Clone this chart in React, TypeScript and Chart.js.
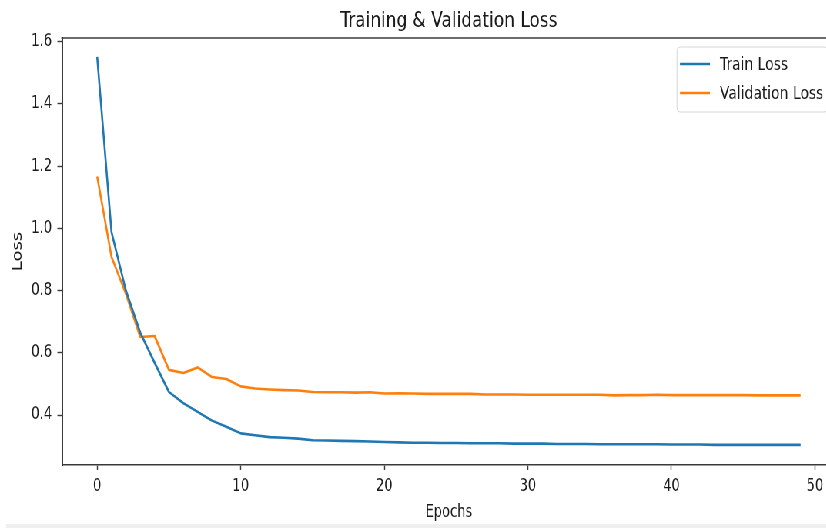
import React, { useEffect, useRef } from "react";
import { Chart, registerables } from "chart.js";

Chart.register(...registerables);

// ---- data ----
const epochs = [
  0, 1, 2, 3, 4, 5, 6, 7, 8, 9,
  10, 11, 12, 13, 14, 15, 16, 17, 18, 19,
  20, 21, 22, 23, 24, 25, 26, 27, 28, 29,
  30, 31, 32, 33, 34, 35, 36, 37, 38, 39,
  40, 41, 42, 43, 44, 45, 46, 47, 48, 49,
];
const trainLoss = [
  1.551, 0.988, 0.8, 0.665, 0.568, 0.474, 0.438, 0.41, 0.382, 0.362,
  0.341, 0.335, 0.329, 0.327, 0.324, 0.319, 0.318, 0.317, 0.316, 0.315,
  0.313, 0.312, 0.311, 0.311, 0.31, 0.31, 0.309, 0.309, 0.309, 0.308,
  0.308, 0.308, 0.307, 0.307, 0.307, 0.306, 0.306, 0.306, 0.306, 0.306,
  0.305, 0.305, 0.305, 0.304, 0.304, 0.304, 0.304, 0.304, 0.304, 0.304,
];
const valLoss = [
  1.167, 0.908, 0.79, 0.651, 0.654, 0.545, 0.535, 0.553, 0.522, 0.516,
  0.492, 0.485, 0.482, 0.48, 0.479, 0.474, 0.473, 0.473, 0.472, 0.473,
  0.469, 0.47, 0.469, 0.468, 0.468, 0.468, 0.468, 0.466, 0.466, 0.466,
  0.465, 0.465, 0.465, 0.465, 0.465, 0.465, 0.463, 0.464, 0.464, 0.465,
  0.464, 0.464, 0.464, 0.464, 0.464, 0.464, 0.463, 0.463, 0.463, 0.463,
];
const xTicks = [0, 10, 20, 30, 40, 50];
const yTicks = [0.4, 0.6, 0.8, 1.0, 1.2, 1.4, 1.6];
const seriesNames = ["Train Loss", "Validation Loss"];
const seriesColors = ["#1f77b4", "#ff7f0e"];
const chartTitle = "Training & Validation Loss";
const xLabel = "Epochs";
const yLabel = "Loss";

// ---- layout (display px; horizontal compression SX) ----
const SX = 0.77;
const W = 1090;
const H = 528;
const FONT = "'DejaVu Sans', sans-serif";
const AX = "#3a3a3a";
const d = (x: number) => x / SX; // display x -> internal x

const overlay = {
  id: "overlay",
  afterDraw(chart: any) {
    const ctx = chart.ctx as CanvasRenderingContext2D;
    const a = chart.chartArea;
    ctx.save();
    // top spine
    ctx.strokeStyle = AX;
    ctx.lineWidth = 1.6;
    ctx.beginPath();
    ctx.moveTo(a.left - 1, a.top);
    ctx.lineTo(a.right, a.top);
    ctx.stroke();

    // title
    ctx.fillStyle = "#1a1a1a";
    ctx.font = `22px ${FONT}`;
    ctx.textAlign = "center";
    ctx.textBaseline = "alphabetic";
    ctx.fillText(chartTitle, (a.left + a.right) / 2, 26.5);

    // x label
    ctx.font = `17px ${FONT}`;
    ctx.fillText(xLabel, (a.left + a.right) / 2, 517);

    // y label
    ctx.save();
    ctx.translate(d(18), (a.top + a.bottom) / 2);
    ctx.rotate(-Math.PI / 2);
    ctx.textBaseline = "middle";
    ctx.font = `18px ${FONT}`;
    ctx.fillText(yLabel, 0, 0);
    ctx.restore();

    // legend
    const bx = d(677);
    const by = 47;
    const bw = d(828) - bx;
    const bh = 65;
    ctx.beginPath();
    ctx.roundRect(bx, by, bw, bh, 4);
    ctx.fillStyle = "rgba(255,255,255,0.85)";
    ctx.fill();
    ctx.strokeStyle = "#d6d6d6";
    ctx.lineWidth = 1;
    ctx.stroke();
    const rows = [64, 93];
    chart.data.datasets.forEach((ds: any, i: number) => {
      ctx.strokeStyle = ds.borderColor;
      ctx.lineWidth = 2.5;
      ctx.beginPath();
      ctx.moveTo(d(680), rows[i]);
      ctx.lineTo(d(710), rows[i]);
      ctx.stroke();
      ctx.fillStyle = "#1a1a1a";
      ctx.font = `18px ${FONT}`;
      ctx.textAlign = "left";
      ctx.textBaseline = "middle";
      ctx.fillText(ds.label, d(720), rows[i] + 1);
    });

    // faint band at the very bottom
    ctx.fillStyle = "#efefef";
    ctx.fillRect(d(6), 524, W, 4);
    ctx.restore();
  },
};

export default function App() {
  const ref = useRef<HTMLCanvasElement>(null);

  useEffect(() => {
    const canvas = ref.current;
    if (!canvas) return;
    const left = d(62);
    const right = d(835.8);
    const chart = new Chart(canvas, {
      type: "line",
      data: {
        datasets: [trainLoss, valLoss].map((vals, k) => ({
          label: seriesNames[k],
          data: epochs.map((e, i) => ({ x: e, y: vals[i] })),
          borderColor: seriesColors[k],
          backgroundColor: seriesColors[k],
          borderWidth: 2.6,
          pointRadius: 0,
          tension: 0,
          borderJoinStyle: "round" as const,
          fill: false,
        })),
      },
      options: {
        responsive: false,
        animation: false,
        devicePixelRatio: 1,
        layout: { padding: { left: 0, top: 38, right: W - right, bottom: 0 } },
        plugins: {
          legend: { display: false },
          tooltip: { enabled: false },
          title: { display: false },
        },
        scales: {
          x: {
            type: "linear",
            min: -2.45,
            max: 51.45,
            afterBuildTicks: (s: any) => {
              s.ticks = xTicks.map((v) => ({ value: v }));
            },
            afterFit: (s: any) => {
              s.height = H - 465;
            },
            grid: {
              drawOnChartArea: false,
              drawTicks: true,
              tickLength: 5,
              tickColor: AX,
              tickWidth: 1.4,
            },
            border: { display: true, color: AX, width: 1.6 },
            ticks: {
              padding: 6,
              color: "#1a1a1a",
              font: { family: FONT, size: 17 },
              callback: (v: any) => String(v),
            },
          },
          y: {
            type: "linear",
            min: 0.2393,
            max: 1.612,
            afterBuildTicks: (s: any) => {
              s.ticks = yTicks.map((v) => ({ value: v }));
            },
            afterFit: (s: any) => {
              s.width = left;
            },
            grid: {
              drawOnChartArea: false,
              drawTicks: true,
              tickLength: 6,
              tickColor: AX,
              tickWidth: 1.4,
            },
            border: { display: true, color: AX, width: 2 },
            ticks: {
              padding: 7,
              color: "#1a1a1a",
              font: { family: FONT, size: 17 },
              callback: (v: any) => Number(v).toFixed(1),
            },
          },
        },
      },
      plugins: [overlay],
    });
    return () => chart.destroy();
  }, []);

  return (
    <div
      style={{
        position: "fixed",
        left: 0,
        top: 0,
        width: W,
        height: H,
        transform: `scaleX(${SX})`,
        transformOrigin: "0 0",
        background: "#fff",
      }}
    >
      <canvas ref={ref} width={W} height={H} style={{ display: "block", width: W, height: H }} />
    </div>
  );
}
